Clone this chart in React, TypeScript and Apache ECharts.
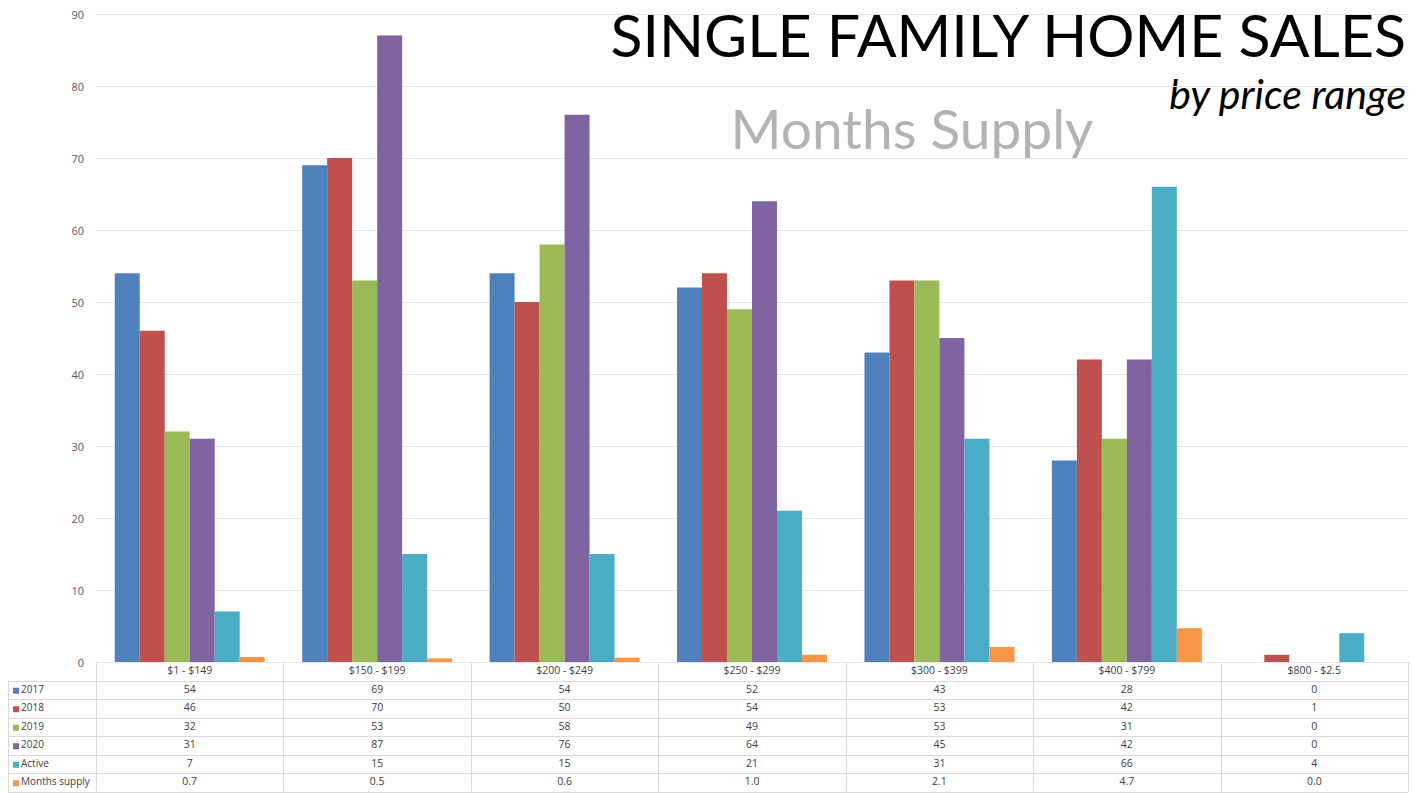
import React, { useEffect, useRef } from "react";
import * as echarts from "echarts";

const categories = ["$1 - $149", "$150 - $199", "$200 - $249", "$250 - $299", "$300 - $399", "$400 - $799", "$800 - $2.5"];
const seriesNames = ["2017", "2018", "2019", "2020", "Active", "Months supply"];
const v2017 = [54, 69, 54, 52, 43, 28, 0];
const v2018 = [46, 70, 50, 54, 53, 42, 1];
const v2019 = [32, 53, 58, 49, 53, 31, 0];
const v2020 = [31, 87, 76, 64, 45, 42, 0];
const vActive = [7, 15, 15, 21, 31, 66, 4];
const vMonths = [0.7, 0.5, 0.6, 1.0, 2.1, 4.7, 0.0];
const yTicks = [0, 10, 20, 30, 40, 50, 60, 70, 80, 90];
const colors = ["#4F81BD", "#C0504D", "#9BBB59", "#8064A2", "#4BACC6", "#F79646"];

const W = 1413;
const H = 793;
const GL = 96;
const GR = 1408;
const GT = 14;
const GB = 662;
const ROW_H = 18.5;
const TABLE_L = 8;

export default function App() {
  const ref = useRef<HTMLDivElement>(null);
  useEffect(() => {
    if (!ref.current) return;
    const chart = echarts.init(ref.current, undefined, { renderer: "svg" });
    const allValues = [v2017, v2018, v2019, v2020, vActive, vMonths];
    const catW = (GR - GL) / categories.length;
    const lineColor = "#d9d9d9";
    const textColor = "#404040";
    const font = "'Open Sans', 'Noto Sans', sans-serif";
    const graphic: any[] = [];
    const rows = seriesNames.length + 1;
    const tableBottom = GB + rows * ROW_H;
    for (let r = 0; r <= rows; r++) {
      const y = Math.round(GB + r * ROW_H) + 0.5;
      graphic.push({
        type: "line",
        shape: { x1: r === 0 ? GL : TABLE_L, y1: y, x2: GR, y2: y },
        style: { stroke: lineColor, lineWidth: 1 },
        silent: true,
      });
    }
    for (let c = 0; c <= categories.length; c++) {
      const x = Math.round(GL + c * catW) + 0.5;
      graphic.push({
        type: "line",
        shape: { x1: x, y1: GB, x2: x, y2: tableBottom },
        style: { stroke: lineColor, lineWidth: 1 },
        silent: true,
      });
    }
    graphic.push({
      type: "line",
      shape: { x1: TABLE_L + 0.5, y1: GB + ROW_H, x2: TABLE_L + 0.5, y2: tableBottom },
      style: { stroke: lineColor, lineWidth: 1 },
      silent: true,
    });
    categories.forEach((c, i) => {
      graphic.push({
        type: "text",
        x: GL + (i + 0.5) * catW,
        y: GB + ROW_H / 2 - 1,
        style: { text: c, fill: textColor, font: `10.5px ${font}`, align: "center", verticalAlign: "middle" },
        silent: true,
      });
    });
    seriesNames.forEach((name, r) => {
      const cy = GB + (r + 1.5) * ROW_H - 1;
      graphic.push({
        type: "rect",
        shape: { x: 13, y: cy - 1, width: 6, height: 6 },
        style: { fill: colors[r] },
        silent: true,
      });
      graphic.push({
        type: "text",
        x: 21,
        y: cy,
        style: { text: name, fill: textColor, font: `10px ${font}`, align: "left", verticalAlign: "middle" },
        silent: true,
      });
      allValues[r].forEach((v, i) => {
        graphic.push({
          type: "text",
          x: GL + (i + 0.5) * catW,
          y: cy,
          style: {
            text: name === "Months supply" ? v.toFixed(1) : String(v),
            fill: textColor,
            font: `10.5px ${font}`,
            align: "center",
            verticalAlign: "middle",
          },
          silent: true,
        });
      });
    });
    graphic.push({
      type: "text",
      x: 1406,
      y: 34,
      style: { text: "SINGLE FAMILY HOME SALES", fill: "#000", font: `400 59px Lato, sans-serif`, lineHeight: 59, align: "right", verticalAlign: "middle" },
      silent: true,
    });
    graphic.push({
      type: "text",
      x: 1406,
      y: 93,
      style: { text: "by price range", fill: "#000", font: `italic 400 41px Lato, sans-serif`, lineHeight: 41, align: "right", verticalAlign: "middle" },
      silent: true,
    });
    graphic.push({
      type: "text",
      x: 912,
      y: 128,
      style: { text: "Months Supply", fill: "#b3b3b3", font: `400 55px Lato, sans-serif`, lineHeight: 55, align: "center", verticalAlign: "middle" },
      silent: true,
    });

    chart.setOption({
      animation: false,
      backgroundColor: "#ffffff",
      grid: { left: GL, right: W - GR, top: GT, bottom: H - GB, containLabel: false },
      xAxis: {
        type: "category",
        data: categories,
        axisLine: { show: false },
        axisTick: { show: false },
        axisLabel: { show: false },
      },
      yAxis: {
        type: "value",
        min: yTicks[0],
        max: yTicks[yTicks.length - 1],
        interval: yTicks[1] - yTicks[0],
        axisLine: { show: false },
        axisTick: { show: false },
        axisLabel: { color: "#595959", fontSize: 11, fontFamily: font, margin: 12 },
        splitLine: { lineStyle: { color: "#e6e6e6", width: 1 } },
      },
      series: allValues.map((data, i) => ({
        name: seriesNames[i],
        type: "bar",
        data,
        barGap: "0%",
        barCategoryGap: "20%",
        itemStyle: { color: colors[i] },
      })),
      graphic,
    });
    return () => chart.dispose();
  }, []);
  return <div ref={ref} style={{ width: W, height: H, position: "absolute", left: 0, top: 0 }} />;
}
